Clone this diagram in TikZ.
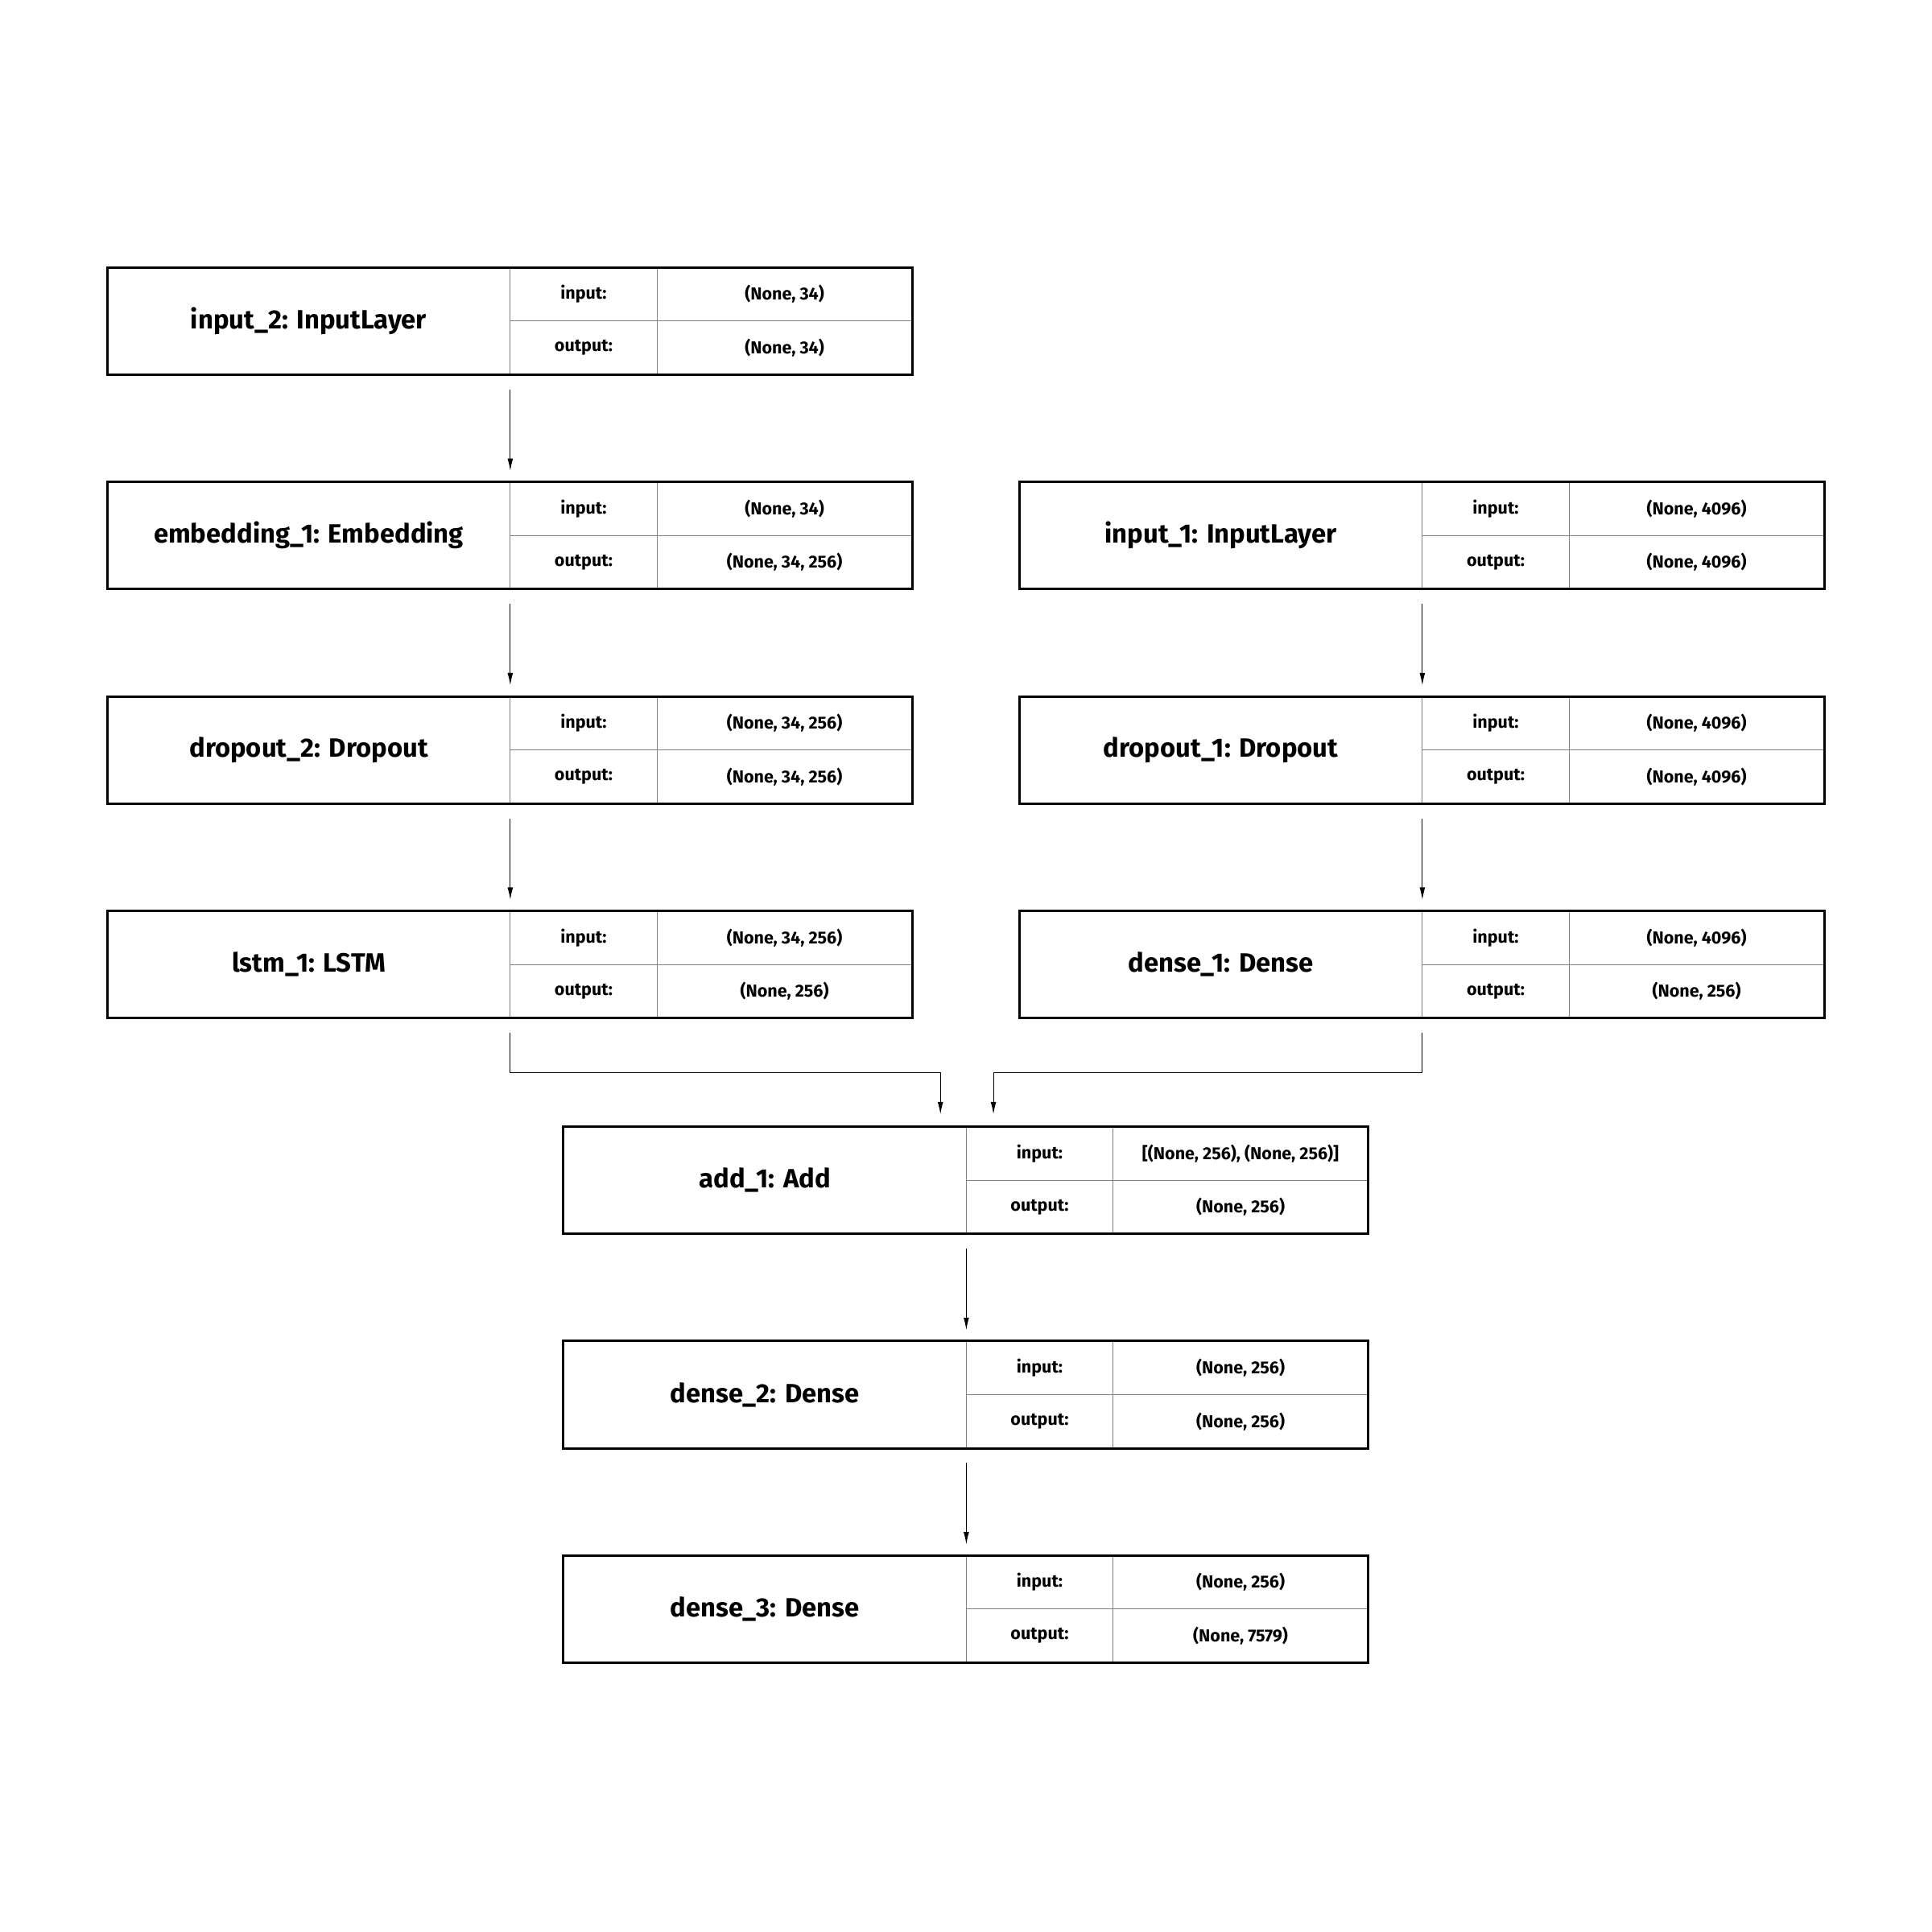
\documentclass[tikz,border=0pt]{standalone}
\usepackage{fontspec}
\setmainfont{Fira Sans}
\usepackage{tikz}
\usetikzlibrary{positioning, arrows.meta}
\tikzstyle{namebox} = [rectangle, minimum width=6.54cm, minimum height=1.74cm, inner sep=0pt, outer sep=0pt, text centered, draw=gray, line width=0.4pt, font=\fontsize{12.2}{14}\selectfont\bfseries]
\tikzstyle{keybox} = [rectangle, minimum width=2.38cm, minimum height=0.87cm, inner sep=0pt, outer sep=0pt, text centered, draw=gray, line width=0.4pt, font=\fontsize{8}{9.5}\selectfont\bfseries]
\tikzstyle{valbox} = [keybox, minimum width=4.14cm]
\tikzstyle{frame} = [line width=1.1pt, draw=black]
\tikzstyle{arrow} = [line width=0.4pt, -{Latex[length=2mm,width=0.9mm]}]
\newcommand{\layer}[5]{% id, placement, title, input, output
    \node (#1) [namebox, #2] {#3};
    \node (#1-il) [keybox, anchor=north west] at (#1.north east) {input:};
    \node (#1-ol) [keybox, anchor=north west] at (#1-il.south west) {output:};
    \node (#1-iv) [valbox, anchor=north west] at (#1-il.north east) {#4};
    \node (#1-ov) [valbox, anchor=north west] at (#1-iv.south west) {#5};
    \draw [frame] (#1.north west) rectangle (#1-ov.south east);
}
\begin{document}
\begin{tikzpicture}[node distance=1.74cm]
    \useasboundingbox (0,0) rectangle (31.35,-31.35);
    % left branch
    \layer{in2}{anchor=north west, at={(1.74,-4.34)}}{input\_2: InputLayer}{(None, 34)}{(None, 34)}
    \layer{emb1}{below=of in2}{embedding\_1: Embedding}{(None, 34)}{(None, 34, 256)}
    \layer{drop2}{below=of emb1}{dropout\_2: Dropout}{(None, 34, 256)}{(None, 34, 256)}
    \layer{lstm1}{below=of drop2}{lstm\_1: LSTM}{(None, 34, 256)}{(None, 256)}
    % right branch
    \layer{in1}{anchor=north west, at={(16.54,-7.82)}}{input\_1: InputLayer}{(None, 4096)}{(None, 4096)}
    \layer{drop1}{below=of in1}{dropout\_1: Dropout}{(None, 4096)}{(None, 4096)}
    \layer{dense1}{below=of drop1}{dense\_1: Dense}{(None, 4096)}{(None, 256)}
    % merged
    \layer{add1}{anchor=north west, at={(9.14,-18.28)}}{add\_1: Add}{[(None, 256), (None, 256)]}{(None, 256)}
    \layer{dense2}{below=of add1}{dense\_2: Dense}{(None, 256)}{(None, 256)}
    \layer{dense3}{below=of dense2}{dense\_3: Dense}{(None, 256)}{(None, 7579)}

    \coordinate (addL) at ([xshift=-0.42cm]add1.north east);
    \coordinate (addR) at ([xshift=0.44cm]add1.north east);

    \draw [arrow, shorten <=0.24cm, shorten >=0.18cm] (in2.south east) -- (emb1.north east);
    \draw [arrow, shorten <=0.24cm, shorten >=0.18cm] (emb1.south east) -- (drop2.north east);
    \draw [arrow, shorten <=0.24cm, shorten >=0.18cm] (drop2.south east) -- (lstm1.north east);
    \draw [arrow, shorten <=0.24cm, shorten >=0.18cm] (in1.south east) -- (drop1.north east);
    \draw [arrow, shorten <=0.24cm, shorten >=0.18cm] (drop1.south east) -- (dense1.north east);
    \draw [arrow, shorten <=0.24cm, shorten >=0.2cm] (lstm1.south east) -- ++(0,-0.88) -| (addL);
    \draw [arrow, shorten <=0.24cm, shorten >=0.2cm] (dense1.south east) -- ++(0,-0.88) -| (addR);
    \draw [arrow, shorten <=0.24cm, shorten >=0.18cm] (add1.south east) -- (dense2.north east);
    \draw [arrow, shorten <=0.24cm, shorten >=0.18cm] (dense2.south east) -- (dense3.north east);
\end{tikzpicture}
\end{document}
